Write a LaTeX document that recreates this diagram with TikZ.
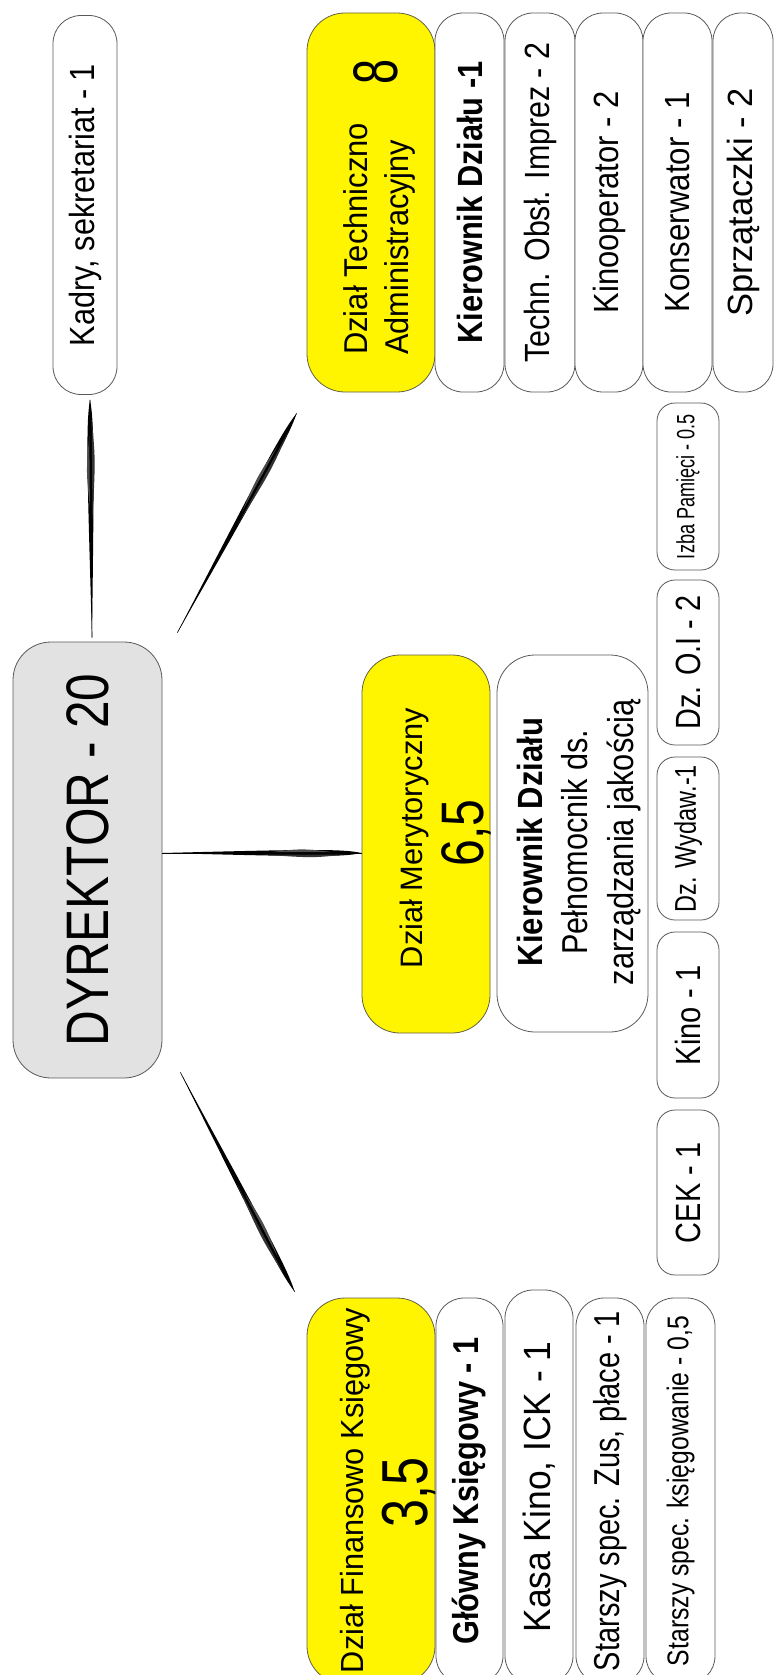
\documentclass[tikz,border=0pt]{standalone}
\usepackage{graphicx}
\usepackage{fontspec}
\setmainfont{Liberation Sans}
\usetikzlibrary{calc}
\definecolor{deptyellow}{HTML}{FFF500}
\definecolor{dirgray}{HTML}{E2E2E2}
\newcommand{\setfs}[1]{\fontsize{#1}{#1}\selectfont}
\newcommand{\fitw}[2]{\resizebox{#1pt}{\height}{#2}}
\begin{document}
\begin{tikzpicture}[x=1pt,y=-1pt,
		box/.style={draw=black!65, line width=0.8, rotate=90, inner sep=0, fill=white},
		bigbox/.style={box, rounded corners=38},
		colbox/.style={box, rounded corners=28, minimum width=379, minimum height=69},
		smallbox/.style={box, rounded corners=18, minimum height=62},
		dept/.style={bigbox, fill=deptyellow, draw=black!70!yellow},
		txt/.style={rotate=90, inner sep=0}]
		\clip (0,0) rectangle (774,1675);
		% dyrektor
		\node[bigbox, fill=dirgray, minimum width=436, minimum height=149, font=\setfs{60}] (dyr) at (87.5,860) {\fitw{373}{DYREKTOR - 20}};
		\node[colbox, minimum height=64, font=\setfs{35}] (kadry) at (85,205) {\fitw{282}{Kadry, sekretariat - 1}};
		% dzial techniczno administracyjny
		\node[dept, minimum width=379, minimum height=128] (dta) at (371,202.5) {};
		\node[txt, anchor=base west, font=\setfs{33}] (dtaA) at (367,355) {\fitw{232}{Dział Techniczno}};
		\node[txt, anchor=base west, font=\setfs{33}] (dtaB) at (408,355) {\fitw{215}{Administracyjny}};
		\node[txt, font=\setfs{63}] (dta8) at (375.5,72.5) {\fitw{25}{8}};
		\node[colbox, font=\bfseries\setfs{35}] (ktd) at (469.5,202.5) {\fitw{282}{Kierownik Działu -1}};
		\node[colbox, minimum height=70, font=\setfs{35}] (techn) at (540,202.5) {\fitw{320}{Techn. Obsł. Imprez - 2}};
		\node[colbox, minimum height=68, font=\setfs{35}] (kinoop) at (609,202.5) {\fitw{222}{Kinooperator - 2}};
		\node[colbox, font=\setfs{35}] (kons) at (677.5,202.5) {\fitw{220}{Konserwator - 1}};
		\node[colbox, minimum height=60, font=\setfs{35}] (sprz) at (743,202.5) {\fitw{228}{Sprzątaczki - 2}};
		% dzial merytoryczny
		\node[dept, minimum width=378, minimum height=128] (mer) at (426,844) {};
		\node[txt, anchor=base, font=\setfs{31}] (merA) at (422,838) {\fitw{260}{Dział Merytoryczny}};
		\node[txt, anchor=base, font=\setfs{60}] (merB) at (483,833) {\fitw{67}{6,5}};
		\node[bigbox, minimum width=377, minimum height=151] (kmer) at (572.5,843.5) {};
		\node[txt, anchor=base, font=\bfseries\setfs{35}] (kmerA) at (542,842) {\fitw{248}{Kierownik Działu}};
		\node[txt, anchor=base, font=\setfs{36}] (kmerB) at (587,842) {\fitw{225}{Pełnomocnik ds.}};
		\node[txt, anchor=base, font=\setfs{36}] (kmerC) at (633,842) {\fitw{286}{zarządzania jakością}};
		\node[smallbox, minimum width=167, font=\setfs{25}] (izba) at (688,486.5) {\fitw{145}{Izba Pamięci - 0.5}};
		\node[smallbox, minimum width=165, font=\setfs{35}] (doi) at (688,662.5) {\fitw{134}{Dz. O.I - 2}};
		\node[smallbox, minimum width=163, font=\setfs{30}] (wyd) at (688,838.5) {\fitw{147}{Dz. Wydaw.-1}};
		\node[smallbox, minimum width=166, font=\setfs{35}] (kino) at (688,1015) {\fitw{100}{Kino - 1}};
		\node[smallbox, minimum width=165, font=\setfs{35}] (cek) at (688,1192.5) {\fitw{101}{CEK - 1}};
		% dzial finansowo ksiegowy
		\node[dept, minimum width=386, minimum height=128] (fin) at (371,1491) {};
		\node[txt, anchor=base, font=\setfs{32}] (finA) at (363,1490.5) {\fitw{365}{Dział Finansowo Księgowy}};
		\node[txt, anchor=base, font=\setfs{65}] (finB) at (427,1492) {\fitw{70}{3,5}};
		\node[colbox, minimum width=386, minimum height=67, font=\bfseries\setfs{36}] (glow) at (469.5,1491) {\fitw{307}{Główny Księgowy - 1}};
		\node[colbox, minimum width=394, minimum height=68, font=\setfs{38}] (kasa) at (539,1487) {\fitw{291}{Kasa Kino, ICK - 1}};
		\node[colbox, minimum width=386, minimum height=68, font=\setfs{36}] (zus) at (610,1491) {\fitw{360}{Starszy spec. Zus, płace - 1}};
		\node[colbox, minimum width=386, font=\setfs{30}] (ksieg) at (680.5,1491) {\fitw{350}{Starszy spec. księgowanie - 0,5}};
		% connectors
		\coordinate (kc) at ($(kadry.west)+(5,5)$);
		\coordinate (kp) at ($(dyr.east)+(4.5,-4)$);
		\coordinate (tc) at ($(dta.north west)+(-10,21)$);
		\coordinate (tp) at ($(dyr.south east)+(15,-9)$);
		\coordinate (mc) at ($(mer.north)+(0,9)$);
		\coordinate (mp) at ($(dyr.south)+(0,-7)$);
		\coordinate (fc) at ($(fin.north east)+(-12,-6)$);
		\coordinate (fp) at ($(dyr.south west)+(18,-6)$);
		\foreach \ch/\pa in {kc/kp, tc/tp, mc/mp, fc/fp} {
			\fill[black] (\ch) .. controls ($(\ch)!0.1!(\pa)!4.5pt!90:(\pa)$) and ($(\ch)!0.3!(\pa)!3.5pt!90:(\pa)$) .. (\pa)
				.. controls ($(\ch)!0.3!(\pa)!3.5pt!-90:(\pa)$) and ($(\ch)!0.1!(\pa)!4.5pt!-90:(\pa)$) .. (\ch);
			\fill[black!80] ($(\ch)!0.08!(\pa)!1.5pt!90:(\pa)$) .. controls ($(\ch)!0.25!(\pa)!5pt!90:(\pa)$) .. ($(\ch)!0.5!(\pa)!1.5pt!90:(\pa)$) -- cycle;
			\fill[black!70] ($(\ch)!0.15!(\pa)!1pt!-90:(\pa)$) .. controls ($(\ch)!0.3!(\pa)!4.5pt!-90:(\pa)$) .. ($(\ch)!0.45!(\pa)!1pt!-90:(\pa)$) -- cycle;
			\draw[black, line width=0.6] (\ch) -- (\pa);
		}
	\end{tikzpicture}
\end{document}
